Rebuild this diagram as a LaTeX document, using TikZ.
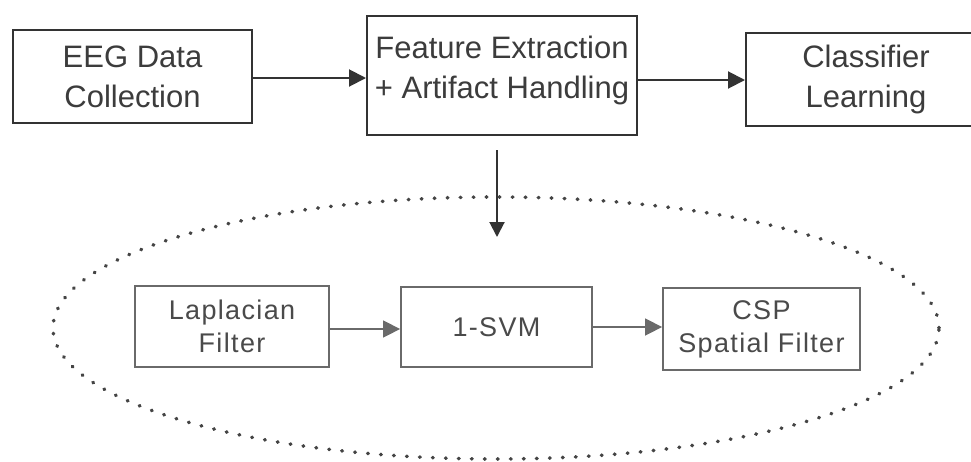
\documentclass[tikz,border=0pt]{standalone}
\usepackage{fontspec}
\setmainfont{Liberation Sans}
\newfontfamily\subfont[LetterSpace=5]{Liberation Sans}
\usetikzlibrary{arrows.meta}
\definecolor{strongline}{HTML}{333333}
\definecolor{strongtext}{HTML}{3C3C3C}
\definecolor{softline}{HTML}{6A6A6A}
\definecolor{softtext}{HTML}{4A4A4A}
\definecolor{dotcol}{HTML}{444444}
\tikzset{
  stagebox/.style={draw=strongline, line width=2pt, inner sep=0pt,
    align=center, text=strongtext, font=\fontsize{31}{40}\selectfont},
  subbox/.style={draw=softline, line width=1.8pt, inner sep=0pt,
    align=center, text=softtext, font=\subfont\fontsize{27}{33}\selectfont},
  labeltext/.style={inner sep=0pt, align=center, text=strongtext,
    font=\fontsize{31}{40}\selectfont},
  mainflow/.style={draw=strongline, line width=2pt,
    -{Triangle[length=17pt,width=17pt]}},
  subflow/.style={draw=softline, line width=1.5pt,
    -{Triangle[length=17pt,width=17pt]}},
  downflow/.style={draw=strongline, line width=2pt,
    -{Triangle[length=15pt,width=15pt]}},
  group/.style={draw=dotcol, line width=3.6pt, line cap=round,
    dash pattern=on 0.6pt off 12.4pt},
}
\begin{document}
\begin{tikzpicture}[x=1pt,y=-1pt]
  \useasboundingbox (0,0) rectangle (971,461);
  \fill[white] (0,0) rectangle (971,461);

  % processing pipeline
  \node[stagebox, minimum width=239pt, minimum height=93pt] (eeg) at (132.5,76.5)
    {EEG Data\\Collection};
  \node[stagebox, minimum width=270pt, minimum height=119pt] (feat) at (502,75.5) {};
  \node[labeltext] (featlabel) at (502,70)
    {Feature Extraction\\+ Artifact Handling};
  \node[stagebox, minimum width=240pt, minimum height=93pt] (clf) at (866,79.5)
    {Classifier\\Learning};

  \draw[mainflow] ([yshift=-1.5pt]eeg.east) -- ([yshift=-1.5pt]eeg.east -| feat.west);
  \draw[mainflow] ([yshift=-4.5pt]feat.east) -- ([yshift=-4.5pt]feat.east -| clf.west);

  % expansion of the feature stage
  \coordinate (drop) at (497,237);
  \draw[downflow] (497,150) -- (drop);

  \draw[group] (496,328) ellipse [x radius=443pt, y radius=131pt];

  \node[subbox, minimum width=194pt, minimum height=81pt] (lap) at (232,326.5)
    {Laplacian\\Filter};
  \node[subbox, minimum width=191pt, minimum height=80pt] (svm) at (496.5,327)
    {1-SVM};
  \node[subbox, minimum width=197pt, minimum height=82pt] (csp) at (761.5,329)
    {CSP\\Spatial Filter};

  \draw[subflow] ([yshift=-2.5pt]lap.east) -- ([yshift=-2.5pt]lap.east -| svm.west);
  \draw[subflow] (svm.east) -- (svm.east -| csp.west);
\end{tikzpicture}
\end{document}
